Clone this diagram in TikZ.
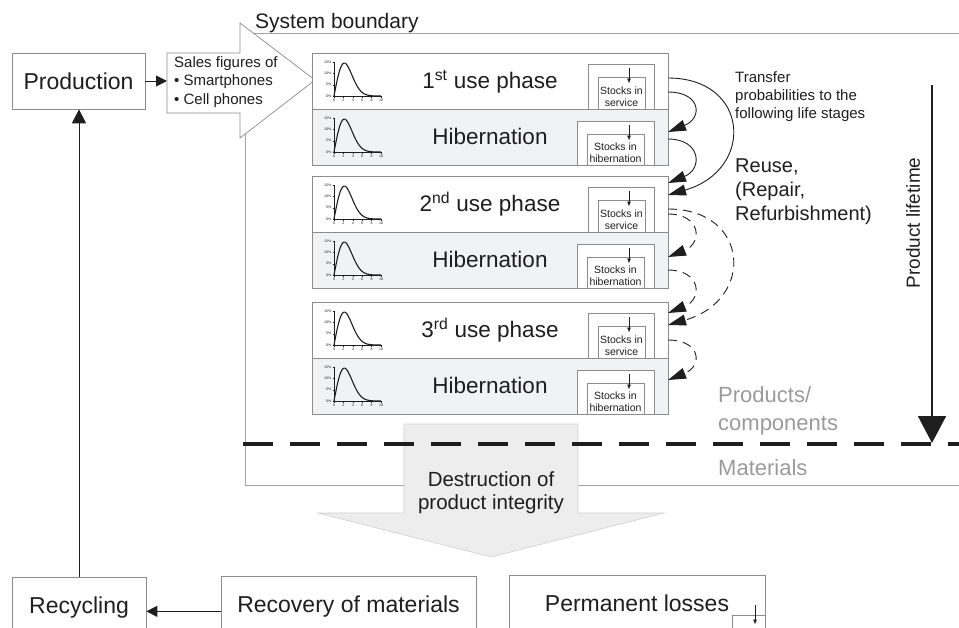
\documentclass[tikz,border=0pt]{standalone}
\usepackage{fontspec}
\setmainfont{Liberation Sans}
\usetikzlibrary{arrows.meta}
\definecolor{bgray}{HTML}{8C8C8C}
\definecolor{lgray}{HTML}{A3A3A3}
\definecolor{hibfill}{HTML}{F1F2F4}
\definecolor{destrfill}{HTML}{EDEDED}
\definecolor{destrline}{HTML}{D0D0D0}
\definecolor{softgray}{HTML}{9A9A9A}
\definecolor{ink}{HTML}{1E1E1E}
\newcommand{\fsz}[2]{\fontsize{#1}{#2}\selectfont}
\newcommand{\leftlines}[1]{\begin{tabular}[t]{@{}l@{}}#1\end{tabular}}
\newcommand{\centerlines}[1]{\begin{tabular}[t]{@{}c@{}}#1\end{tabular}}
\tikzset{
  tinytext/.style={font=\fsz{3.6}{4}, inner sep=0pt, text=ink},
  lifechart/.pic={
    \draw[line width=0.5pt, ink] (0,-34) -- (0,0) -- (47,0);
    \foreach \v/\l [count=\k] in {0/0\%,11.3/5\%,22.7/10\%,34/15\%} {
      \draw[line width=0.4pt, ink] (-1.5,-\v) -- (0,-\v);
      \node[tinytext, anchor=east] (yl\k) at (-2.5,-\v) {\l};
    }
    \foreach \i [count=\k] in {0,2,4,6,8,10} {
      \draw[line width=0.4pt, ink] (4.7*\i,0) -- (4.7*\i,1.5);
      \node[tinytext, anchor=north] (xl\k) at (4.7*\i,3) {\i};
    }
    \draw[line width=1.1pt, ink] plot[domain=0:10, samples=70, smooth]
      (4.7*\x, {-32.9*(\x/2.2)*exp(0.5-\x*\x/9.68)});
  }
}
\newcommand{\usepanel}[3]{%
  \node[panel, fill=white] (#2) at (490,#1+28) {#3};
  \pic (#2c) at (334,#1+43) {lifechart};
  \node[stockbox, minimum width=66pt, minimum height=45pt] (#2o) at (621,#1+33.5) {};
  \node[stockbox, minimum width=47pt, minimum height=32pt] (#2i) at (621.5,#1+40) {};
  \coordinate (#2a) at (629,#1+15);
  \coordinate (#2b) at (629,#1+30);
  \draw[smallarr] (#2a) -- (#2b);
  \node[stocktext] (#2t) at (621.5,#1+43.5) {Stocks in\\service};
}
\newcommand{\hibpanel}[2]{%
  \node[panel, fill=hibfill] (#2) at (490,#1+28) {Hibernation};
  \pic (#2c) at (334,#1+43) {lifechart};
  \node[stockbox, minimum width=77pt, minimum height=44pt] (#2o) at (615.5,#1+34) {};
  \node[stockbox, minimum width=57pt, minimum height=31pt] (#2i) at (615.5,#1+40.5) {};
  \coordinate (#2a) at (629,#1+16);
  \coordinate (#2b) at (629,#1+31);
  \draw[smallarr] (#2a) -- (#2b);
  \node[stocktext] (#2t) at (615.5,#1+43.5) {Stocks in\\hibernation};
}
\begin{document}
\begin{tikzpicture}[x=1pt,y=-1pt,
  box/.style={draw=bgray, line width=0.7pt, fill=white, inner sep=0pt, text=ink},
  bottombox/.style={box, minimum height=70pt, anchor=north, font=\fsz{23}{27},
    text height=16.5pt, text depth=14.5pt},
  panel/.style={draw=bgray, line width=0.7pt, minimum width=356pt, minimum height=56pt,
    inner sep=0pt, font=\fsz{22.5}{26}, text=ink, text height=15pt, text depth=1pt},
  stockbox/.style={draw=bgray, line width=0.6pt, fill=white, inner sep=0pt},
  stocktext/.style={font=\fsz{10.5}{12}, align=center, inner sep=0pt, text=ink},
  smallarr/.style={-{Triangle[length=4.5pt,width=3.5pt]}, line width=0.6pt, ink},
  arr/.style={-{Triangle[length=11pt,width=11pt]}, line width=1pt, ink},
  flow/.style={-{Triangle[length=18pt,width=11pt]}, line width=0.9pt, ink},
  dflow/.style={flow, dash pattern=on 9pt off 6pt},
  plain/.style={inner sep=0pt, text=ink}
]
\useasboundingbox (0,0) rectangle (959,627);
\clip (0,0) rectangle (959,627);

% system boundary
\draw[lgray, line width=0.9pt] (960,33) -- (245,33) -- (245,485) -- (960,485);
\node[plain, anchor=base west, font=\fsz{21}{25}] (sysb) at (255,28) {System boundary};

% production and sales figures
\node[box, minimum width=133pt, minimum height=56pt, font=\fsz{23}{27},
  text height=16.5pt, text depth=0pt] (prod) at (78.5,81) {Production};
\draw[draw=bgray, fill=white, line width=0.7pt]
  (167,53) -- (240,53) -- (240,23) -- (315,80) -- (240,138) -- (240,113) -- (167,113) -- cycle;
\coordinate (salesin) at (167,81);
\node[plain, anchor=base west, font=\fsz{15}{18.5}] (sales) at (174,67)
  {\leftlines{Sales figures of\\\textbullet\ Smartphones\\\textbullet\ Cell phones}};
\draw[arr] (prod.east) -- (salesin);

% life stage panels
\usepanel{53}{u1}{1\textsuperscript{st} use phase}
\hibpanel{109}{h1}
\usepanel{176}{u2}{2\textsuperscript{nd} use phase}
\hibpanel{232}{h2}
\usepanel{302}{u3}{3\textsuperscript{rd} use phase}
\hibpanel{358}{h3}

% transfer arrows
\coordinate (s1a) at (668,78);
\coordinate (s1b) at (668,92);
\coordinate (e1h) at (668,132);
\coordinate (h1s) at (668,139);
\coordinate (e2a) at (668,183);
\coordinate (e2b) at (668,195);
\coordinate (s2a) at (668,209);
\coordinate (s2b) at (668,214);
\coordinate (e2h) at (668,257);
\coordinate (h2s) at (668,270);
\coordinate (e3a) at (668,313);
\coordinate (e3b) at (668,325);
\coordinate (s3a) at (668,340);
\coordinate (e3h) at (668,380);
\draw[flow] (s1b) .. controls (701,92) and (703,118) .. (e1h);
\draw[flow] (s1a) .. controls (750,78) and (755,170) .. (e2b);
\draw[flow] (h1s) .. controls (701,139) and (703,169) .. (e2a);
\draw[dflow] (s2b) .. controls (701,214) and (703,243) .. (e2h);
\draw[dflow] (s2a) .. controls (750,209) and (755,300) .. (e3b);
\draw[dflow] (h2s) .. controls (701,270) and (703,299) .. (e3a);
\draw[dflow] (s3a) .. controls (701,340) and (703,366) .. (e3h);

\node[plain, anchor=base west, font=\fsz{15}{18}] (transfer) at (735,82)
  {\leftlines{Transfer\\probabilities to the\\following life stages}};
\node[plain, anchor=base west, font=\fsz{20}{24}] (reuse) at (735,172)
  {\leftlines{Reuse,\\(Repair,\\Refurbishment)}};

% product lifetime
\coordinate (ltop) at (932,85);
\coordinate (lbot) at (932,443);
\draw[line width=1.6pt, ink, -{Triangle[length=27pt,width=28pt]}] (ltop) -- (lbot);
\node[plain, rotate=90, font=\fsz{19}{23}] (lifetime) at (913,223) {Product lifetime};

\node[inner sep=0pt, text=softgray, anchor=base west, font=\fsz{22}{28}] (prodcomp) at (718,402)
  {\leftlines{Products/\\components}};
\node[inner sep=0pt, text=softgray, anchor=base west, font=\fsz{22}{28}] (materials) at (718,475) {Materials};

% destruction arrow
\draw[draw=destrline, fill=destrfill, line width=0.6pt]
  (404,424) -- (578,424) -- (578,513) -- (664,513) -- (491,557) -- (318,513) -- (404,513) -- cycle;
\node[plain, anchor=base, font=\fsz{20.5}{23}] (destr) at (491,486)
  {\centerlines{Destruction of\\product integrity}};

% products / materials divide
\coordinate (dvl) at (243,444);
\coordinate (dvr) at (962,444);
\draw[line width=3.6pt, ink, dash pattern=on 30pt off 17pt] (dvl) -- (dvr);

% bottom boxes
\node[bottombox, minimum width=134pt] (rec) at (79,577) {Recycling};
\node[bottombox, minimum width=255pt] (recov) at (348.5,576) {Recovery of materials};
\node[bottombox, minimum width=256pt] (perm) at (637,575) {Permanent losses};
\node[stockbox, anchor=north west, minimum width=33pt, minimum height=30pt] (permbox) at (732,615) {};
\coordinate (pa) at (755,605);
\coordinate (pb) at (755,624);
\draw[smallarr] (pa) -- (pb);

\draw[arr] (recov.west) -- (recov.west -| rec.east);
\draw[-{Triangle[length=14pt,width=14pt]}, line width=1pt, ink] (rec.north) -- (rec.north |- prod.south);
\end{tikzpicture}
\end{document}
